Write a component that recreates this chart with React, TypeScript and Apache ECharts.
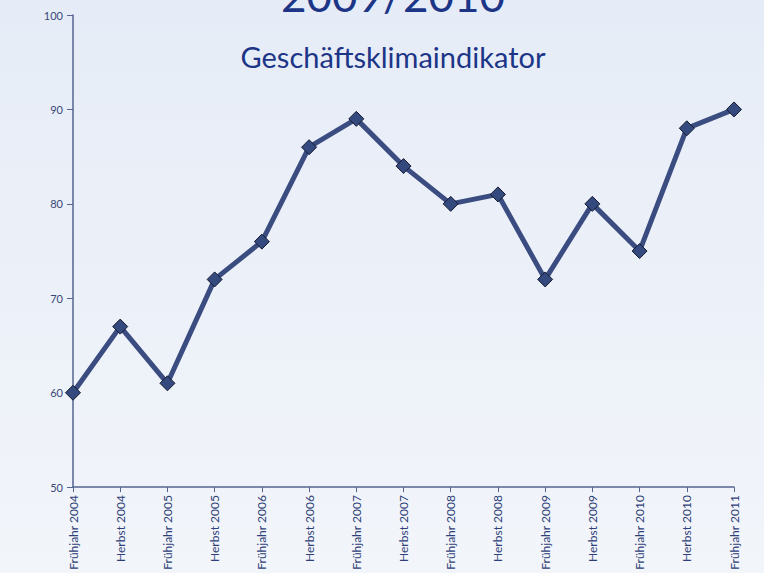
import React, { useEffect, useRef } from "react";
import * as echarts from "echarts";

const categories = [
  "Frühjahr 2004", "Herbst 2004", "Frühjahr 2005", "Herbst 2005", "Frühjahr 2006",
  "Herbst 2006", "Frühjahr 2007", "Herbst 2007", "Frühjahr 2008", "Herbst 2008",
  "Frühjahr 2009", "Herbst 2009", "Frühjahr 2010", "Herbst 2010", "Frühjahr 2011",
];
const values = [60, 67, 61, 72, 76, 86, 89, 84, 80, 81, 72, 80, 75, 88, 90];
const titleText = "2009/2010";
const subtitleText = "Geschäftsklimaindikator";

export default function App() {
  const ref = useRef<HTMLDivElement>(null);
  useEffect(() => {
    document.body.style.margin = "0";
    const chart = echarts.init(ref.current!, null, { renderer: "svg" });
    const axisColor = "#56648f";
    chart.setOption({
      animation: false,
      backgroundColor: new echarts.graphic.LinearGradient(0, 0, 0, 1, [
        { offset: 0, color: "#e6ecf7" },
        { offset: 1, color: "#f2f5fa" },
      ]),
      grid: { left: 73, right: 30, top: 15, bottom: 85, containLabel: false },
      graphic: [
        {
          type: "text",
          x: 393,
          y: -5,
          style: {
            text: titleText,
            fontSize: 44,
            fontFamily: "Lato",
            fill: "#1c3587",
            align: "center",
            verticalAlign: "middle",
          },
        },
        {
          type: "text",
          x: 393,
          y: 56,
          style: {
            text: subtitleText,
            fontSize: 29,
            fontFamily: "Lato",
            fill: "#1c3587",
            align: "center",
            verticalAlign: "middle",
          },
        },
      ],
      xAxis: {
        type: "category",
        data: categories,
        boundaryGap: false,
        axisLine: { lineStyle: { color: axisColor, width: 1.5 } },
        axisTick: { show: true, length: 5, lineStyle: { color: axisColor } },
        axisLabel: {
          rotate: 90,
          interval: 0,
          margin: 8,
          fontSize: 12,
          fontFamily: "Lato",
          color: "#2f3f78",
        },
      },
      yAxis: {
        type: "value",
        min: 50,
        max: 100,
        interval: 10,
        axisLine: { show: true, lineStyle: { color: axisColor, width: 1.5 } },
        axisTick: { show: true, length: 6, lineStyle: { color: axisColor } },
        splitLine: { show: false },
        axisLabel: {
          margin: 10,
          fontSize: 11,
          fontFamily: "Lato",
          color: "#3a4777",
        },
      },
      series: [
        {
          type: "line",
          data: values,
          symbol: "diamond",
          symbolSize: 15,
          lineStyle: { color: "#3b4c80", width: 5 },
          itemStyle: { color: "#34497e", borderColor: "#151a2e", borderWidth: 1 },
        },
      ],
    });
    return () => chart.dispose();
  }, []);
  return <div ref={ref} style={{ width: 764, height: 573 }} />;
}
